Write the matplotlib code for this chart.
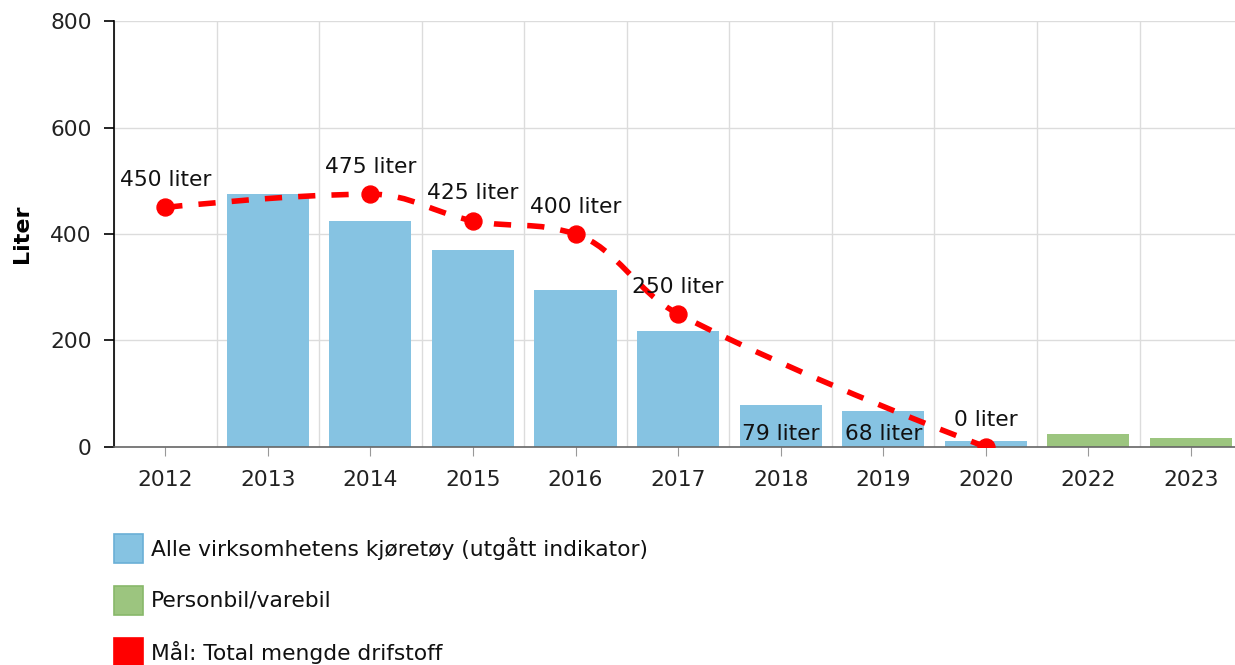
import numpy as np
import matplotlib
matplotlib.use("Agg")
import matplotlib.pyplot as plt
from matplotlib.path import Path
from matplotlib.patches import PathPatch, Rectangle

# data
years = ["2012", "2013", "2014", "2015", "2016", "2017", "2018", "2019", "2020", "2022", "2023"]
alle = [None, 475, 425, 370, 295, 218, 79, 68, 11, None, None]
personbil = [None, None, None, None, None, None, None, None, None, 25, 17]
maal = [450, None, 475, 425, 400, 250, None, None, 0, None, None]
bar_labels = {"2018": "79 liter", "2019": "68 liter"}

legend_names = ["Alle virksomhetens kjøretøy (utgått indikator)",
                "Personbil/varebil",
                "Mål: Total mengde drifstoff"]

blue = "#86c3e2"
green = "#9cc57f"
red = "#ff0000"
fs = 15.7

plt.rcParams['font.family'] = ['DejaVu Sans']

fig = plt.figure(figsize=(12.35, 6.65), dpi=100)
ax = fig.add_axes([0.0923, 0.328, 0.9135, 0.64])

x = np.arange(len(years))

ax.bar([i for i, v in zip(x, alle) if v is not None],
       [v for v in alle if v is not None], width=0.8, color=blue, zorder=2)
ax.bar([i for i, v in zip(x, personbil) if v is not None],
       [v for v in personbil if v is not None], width=0.8, color=green, zorder=2)

# spline through the target points (highcharts style smoothing, nulls connected)
px = [float(i) for i, v in zip(x, maal) if v is not None]
py = [float(v) for v in maal if v is not None]
sm = 1.5
den = sm + 1
left = []
right = []
for k in range(len(px)):
    if k == 0 or k == len(px) - 1:
        left.append((px[k], py[k]))
        right.append((px[k], py[k]))
        continue
    lx = (sm * px[k] + px[k - 1]) / den
    ly = (sm * py[k] + py[k - 1]) / den
    rx = (sm * px[k] + px[k + 1]) / den
    ry = (sm * py[k] + py[k + 1]) / den
    corr = ((ry - ly) * (rx - px[k])) / (rx - lx) + py[k] - ry
    ly += corr
    ry += corr
    if ly > py[k - 1] and ly > py[k]:
        ly = max(py[k - 1], py[k]); ry = 2 * py[k] - ly
    elif ly < py[k - 1] and ly < py[k]:
        ly = min(py[k - 1], py[k]); ry = 2 * py[k] - ly
    if ry > py[k + 1] and ry > py[k]:
        ry = max(py[k + 1], py[k]); ly = 2 * py[k] - ry
    elif ry < py[k + 1] and ry < py[k]:
        ry = min(py[k + 1], py[k]); ly = 2 * py[k] - ry
    left.append((lx, ly))
    right.append((rx, ry))

verts = [(px[0], py[0])]
codes = [Path.MOVETO]
for k in range(1, len(px)):
    verts += [right[k - 1], left[k], (px[k], py[k])]
    codes += [Path.CURVE4] * 3
patch = PathPatch(Path(verts, codes), fill=False, edgecolor=red, lw=4,
                  linestyle=(0, (3.1, 2.9)), zorder=4, capstyle='butt')
ax.add_patch(patch)
ax.plot(px, py, 'o', color=red, markersize=12.2, zorder=5)

for xi, yi in zip(px, py):
    ax.annotate(f"{int(yi)} liter", (xi, yi), xytext=(0, 12.5), textcoords='offset points',
                ha='center', va='bottom', fontsize=fs, color='#111111', zorder=6)

for yr, txt in bar_labels.items():
    i = years.index(yr)
    ax.annotate(txt, (i, 0), xytext=(0, 2), textcoords='offset points',
                ha='center', va='bottom', fontsize=fs, color='#111111', zorder=6)

ax.set_xlim(-0.5, len(years) - 0.5)
ax.set_ylim(0, 800)
ax.set_yticks([0, 200, 400, 600, 800])
ax.set_xticks(x)
ax.set_xticklabels(years)
ax.set_xticks(np.arange(len(years) + 1) - 0.5, minor=True)
ax.grid(axis='y', color='#dcdcdc', lw=1, zorder=0)
ax.grid(axis='x', which='minor', color='#dcdcdc', lw=1, zorder=0)
ax.tick_params(axis='x', which='minor', length=0)
ax.tick_params(axis='x', which='major', length=6.5, color='#999999', labelsize=fs, pad=10,
               labelcolor='#222222')
ax.tick_params(axis='y', length=7, width=1.2, color='black', labelsize=fs, pad=9,
               labelcolor='#222222')
for s in ['top', 'right']:
    ax.spines[s].set_visible(False)
ax.spines['left'].set_color('black')
ax.spines['left'].set_linewidth(1.2)
ax.spines['bottom'].set_color('#666666')
ax.spines['bottom'].set_linewidth(1.2)
ax.set_ylabel("Liter", fontsize=16, fontweight='bold')
ax.yaxis.set_label_coords(-0.073, 0.5)

# legend below the plot
colors = [blue, green, red]
edges = ["#6aafd6", "#88b86a", red]
W, H = fig.get_size_inches() * fig.dpi
for j, (name, c, e) in enumerate(zip(legend_names, colors, edges)):
    yc = 548 + j * 52
    fig.patches.append(Rectangle((114 / W, 1 - (yc + 15) / H), 29 / W, 29 / H,
                                 transform=fig.transFigure, facecolor=c,
                                 edgecolor=e, lw=1.2))
    fig.text(151 / W, 1 - yc / H, name, fontsize=fs, va='center', ha='left', color='#111111')

fig.savefig("out.png", dpi=100)
